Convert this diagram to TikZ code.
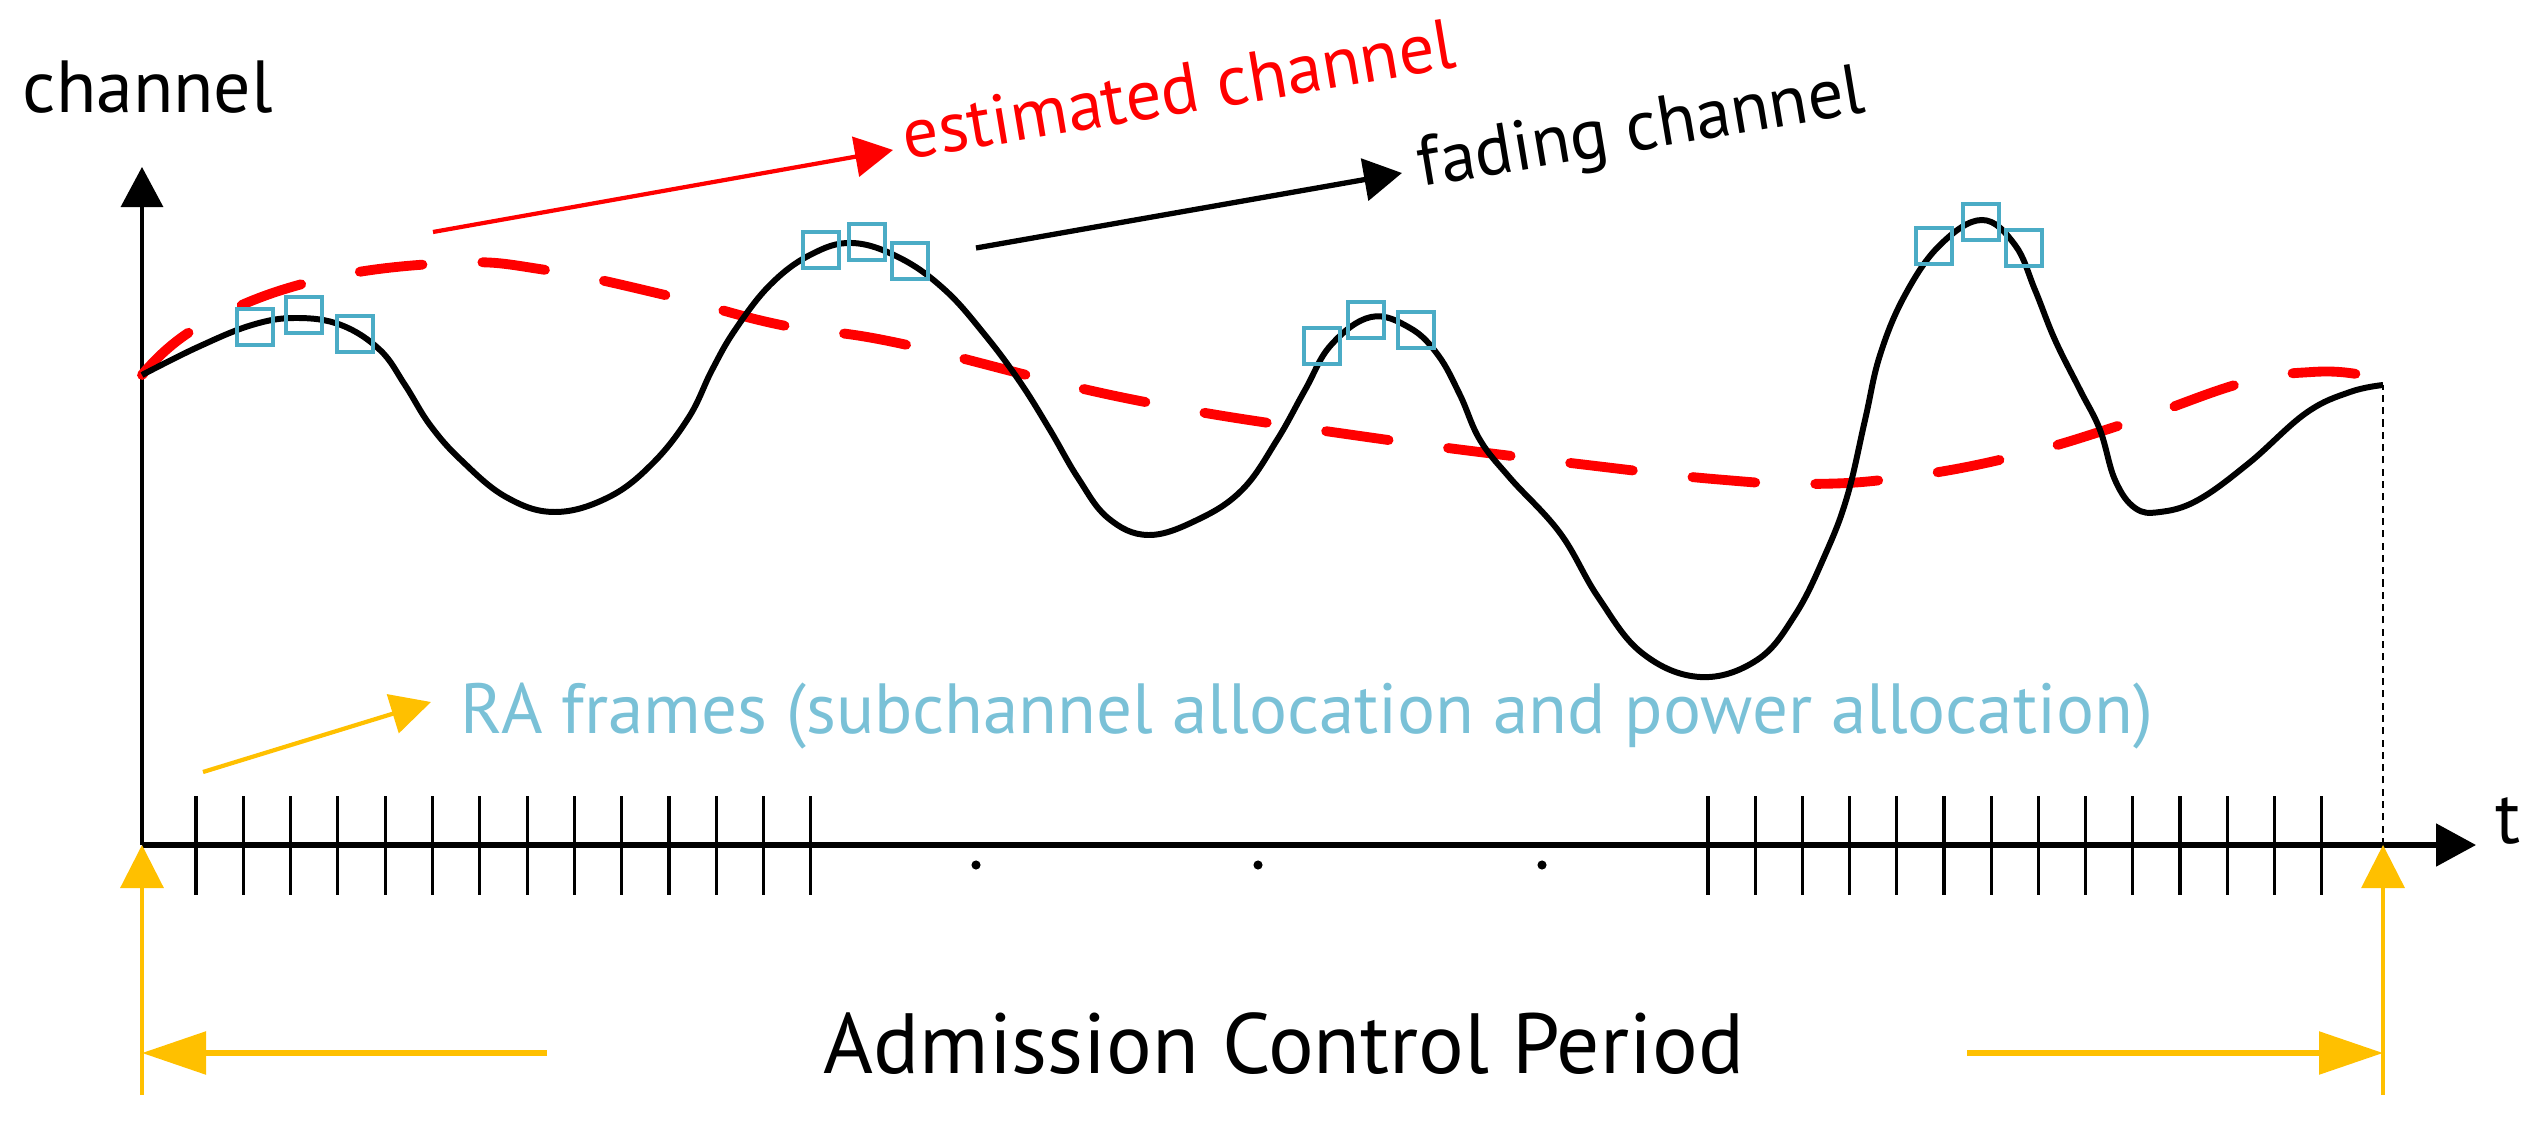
\documentclass[tikz,border=0pt]{standalone}
\usepackage{fontspec}
\setmainfont{PT Sans}
\usetikzlibrary{arrows.meta, positioning}
\definecolor{estred}{HTML}{FF0000}
\definecolor{acgold}{HTML}{FFC000}
\definecolor{rablue}{HTML}{4BACC6}
\definecolor{ratext}{HTML}{7AC1D7}

\begin{document}
\begin{tikzpicture}[x=0.01cm, y=-0.01cm,
					>={Triangle[length=0.4cm, width=0.42cm]},
					every node/.style={inner sep=0pt, anchor=base west},
					lbl/.style={font=\fontsize{21pt}{25pt}\selectfont},
					slant/.style={font=\fontsize{20.2pt}{25pt}\selectfont, rotate=9.5},
					fading/.style={line width=1.7pt, black},
					estim/.style={line width=2.8pt, estred, line cap=round,
						dash pattern=on 0.63cm off 0.6cm},
					slot/.style={line width=0.9pt},
					rabox/.style={draw=rablue, line width=1.1pt, minimum size=0.36cm, anchor=center},
					period/.style={acgold}]

\useasboundingbox (0,0) rectangle (2537,1125);

% axes
\coordinate (O) at (142,845);
\coordinate (ytop) at (142,167);
\coordinate (xend) at (2476,845);
\coordinate (tend) at (2383,845);
\coordinate (cend) at (2383,385);
\draw[->, line width=0.9pt] (O) -- (ytop);
\draw[->, line width=1.5pt] (O) -- (xend);
\draw[line width=0.6pt, dash pattern=on 2pt off 1.5pt] (tend) -- (cend);
\node[lbl] (ylab) at (22,113) {channel};
\node[lbl] (xlab) at (2495,843) {t};

% RA frames on the time axis
\foreach \i in {0,...,13} {
	\draw[slot] (196+47.3*\i,796) -- (196+47.3*\i,895);
	\draw[slot] (1708+47.2*\i,796) -- (1708+47.2*\i,895);
}
\foreach \x in {976,1258,1542}
	\fill (\x,865) circle (1.3pt);

% estimated and fading channel
\draw[estim] plot[smooth, tension=0.7] coordinates {(142,375) (198,327) (310,282)
	(450,263) (546,270) (665,295) (781,325) (898,343) (1130,399) (1367,437) (1604,467)
	(1725,480) (1808,484) (1898,478) (2012,457) (2127,423) (2242,383) (2312,372) (2363,375)
	(2383,383)};
\draw[fading] plot[smooth, tension=0.65] coordinates {(142,375) (198,347) (252,325) (296,318)
	(341,325) (380,350) (405,385) (430,425) (461,460) (506,497) (555,512) (609,497) (653,463)
	(689,417) (712,370) (735,330) (770,285) (810,255) (852,243) (900,258) (945,290) (985,335)
	(1020,382) (1050,430) (1078,478) (1108,518) (1148,535) (1197,520) (1242,490) (1277,440)
	(1305,390) (1331,345) (1371,317) (1410,328) (1438,355) (1460,395) (1480,440) (1510,478)
	(1560,533) (1598,597) (1642,653) (1700,677) (1757,660) (1795,615) (1825,555) (1847,497)
	(1865,420) (1880,355) (1905,295) (1940,245) (1982,220) (2015,245) (2035,290) (2055,340)
	(2080,390) (2100,430) (2115,480) (2135,508) (2160,512) (2198,500) (2249,463) (2306,413)
	(2350,392) (2383,385)};

% RA frames at the peaks
\foreach \x/\y [count=\k] in {255/327, 304/315, 355/334, 821/250, 867/242, 910/261,
	1322/346, 1366/320, 1416/330, 1934/246, 1981/222, 2024/248}
	\node[rabox] (fr\k) at (\x,\y) {};

% labels
\coordinate (e1) at (433,232);
\coordinate (e2) at (893,150);
\draw[->, estred, line width=1.2pt, >={Triangle[length=0.38cm, width=0.4cm]}] (e1) -- (e2);
\node[slant, estred] (est) at (906,160) {estimated channel};

\coordinate (f1) at (976,248);
\coordinate (f2) at (1402,173);
\draw[->, line width=1.5pt, >={Triangle[length=0.38cm, width=0.42cm]}] (f1) -- (f2);
\node[slant] (fad) at (1421,187) {fading channel};

\coordinate (r1) at (203,772);
\coordinate (r2) at (431,702);
\draw[->, period, line width=1.2pt, >={Triangle[length=0.4cm, width=0.4cm]}] (r1) -- (r2);
\node[font=\fontsize{20.2pt}{24pt}\selectfont, ratext] (ra) at (460,733)
	{RA frames (subchannel allocation and power allocation)};

% admission control period
\coordinate (pl) at (142,1095);
\coordinate (pr) at (2383,1095);
\coordinate (al) at (142,1053);
\coordinate (ar) at (2383,1053);
\coordinate (al2) at (547,1053);
\coordinate (ar2) at (1967,1053);
\draw[->, period, line width=0.9pt, >={Triangle[length=0.43cm, width=0.43cm]}] (pl) -- (O);
\draw[->, period, line width=0.9pt, >={Triangle[length=0.43cm, width=0.43cm]}] (pr) -- (tend);
\draw[->, period, line width=1.6pt, >={Triangle[length=0.64cm, width=0.42cm]}] (al2) -- (al);
\draw[->, period, line width=1.6pt, >={Triangle[length=0.64cm, width=0.42cm]}] (ar2) -- (ar);
\node[font=\fontsize{24.3pt}{28pt}\selectfont] (acp) at (823,1073) {Admission Control Period};
\end{tikzpicture}
\end{document}
